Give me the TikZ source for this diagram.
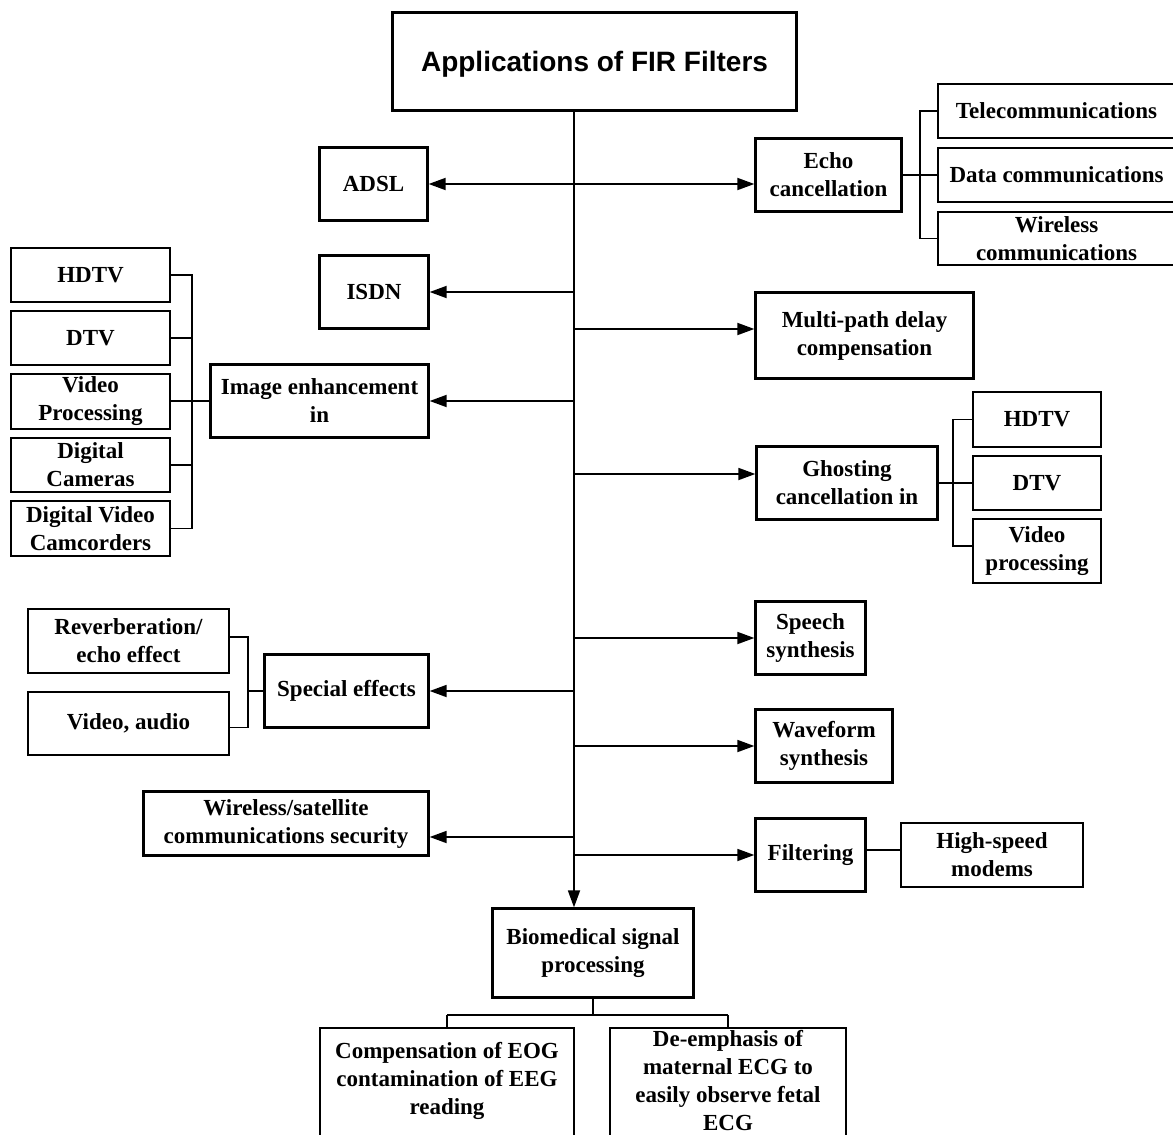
\documentclass[tikz,border=0pt]{standalone}
\usepackage{fontspec}
\setmainfont{Liberation Serif}
\setsansfont{Liberation Sans}
\usetikzlibrary{arrows.meta}
\begin{document}
\begin{tikzpicture}[x=1pt,y=-1pt,
  mbox/.style={draw, line width=2.3pt, inner sep=0pt, align=center, font=\bfseries\fontsize{23}{28}\selectfont},
  cbox/.style={draw, line width=1.5pt, inner sep=0pt, align=center, font=\bfseries\fontsize{23}{28}\selectfont},
  txt/.style={inner sep=0pt, align=center, font=\bfseries\fontsize{23}{28}\selectfont},
  conn/.style={line width=1.6pt},
  arr/.style={line width=1.8pt, -{Triangle[length=17pt,width=12pt]}},
  darr/.style={line width=1.8pt, {Triangle[length=17pt,width=12pt]}-{Triangle[length=17pt,width=12pt]}},
]
\useasboundingbox[fill=white] (0,0) rectangle (1173,1135);

% title
\node[draw, line width=2.4pt, inner sep=0pt, minimum width=404pt, minimum height=98pt, text depth=0pt,
      font=\sffamily\bfseries\fontsize{28}{32}\selectfont] (title) at (594.5,61.5) {Applications of FIR Filters};

% left main boxes
\node[mbox, minimum width=108pt, minimum height=73pt] (adsl) at (373.5,184) {ADSL};
\node[mbox, minimum width=109pt, minimum height=73pt] (isdn) at (374,292) {ISDN};
\node[mbox, minimum width=218pt, minimum height=73pt] (imgenh) at (319.5,401) {Image enhancement\\in};
\node[mbox, minimum width=164pt, minimum height=73pt] (special) at (346.5,691) {Special effects};
\node[mbox, minimum width=285pt, minimum height=64pt] (wsat) at (286,823.5) {Wireless/satellite\\communications security};

% right main boxes
\node[mbox, minimum width=146pt, minimum height=73pt] (echo) at (828.5,175) {Echo\\cancellation};
\node[mbox, minimum width=218pt, minimum height=86pt] (multi) at (864.5,335.5) {Multi-path delay\\compensation};
\node[mbox, minimum width=181pt, minimum height=73pt] (ghost) at (847,483) {Ghosting\\cancellation in};
\node[mbox, minimum width=110pt, minimum height=73pt] (speech) at (810.5,638) {Speech\\synthesis};
\node[mbox, minimum width=137pt, minimum height=73pt] (wave) at (824,746) {Waveform\\synthesis};
\node[mbox, minimum width=110pt, minimum height=73pt] (filter) at (810.5,855) {Filtering};
\node[mbox, minimum width=201pt, minimum height=89pt] (bio) at (593,953) {Biomedical signal\\processing};

% echo children
\node[cbox, minimum width=237pt, minimum height=54pt] (tele) at (1056.5,111) {Telecommunications};
\node[cbox, minimum width=237pt, minimum height=54pt] (data) at (1056.5,175) {Data communications};
\node[cbox, minimum width=237pt, minimum height=53pt] (wless) at (1056.5,238.5) {Wireless\\communications};

% image enhancement children
\node[cbox, minimum width=159pt, minimum height=54pt] (hdtvL) at (90.5,275) {HDTV};
\node[cbox, minimum width=159pt, minimum height=54pt] (dtvL) at (90.5,338) {DTV};
\node[cbox, minimum width=159pt, minimum height=55pt] (vpL) at (90.5,401.5) {Video\\Processing};
\node[cbox, minimum width=159pt, minimum height=54pt] (dcL) at (90.5,465) {Digital\\Cameras};
\node[cbox, minimum width=159pt, minimum height=55pt] (dvcL) at (90.5,528.5) {Digital Video\\Camcorders};

% ghosting children
\node[cbox, minimum width=128pt, minimum height=55pt] (hdtvR) at (1037,419.5) {HDTV};
\node[cbox, minimum width=128pt, minimum height=54pt] (dtvR) at (1037,483) {DTV};
\node[cbox, minimum width=128pt, minimum height=64pt] (vpR) at (1037,551) {Video\\processing};

% special effects children
\node[cbox, minimum width=201pt, minimum height=64pt] (reverb) at (128.5,641) {Reverberation/\\echo effect};
\node[cbox, minimum width=201pt, minimum height=63pt] (vaud) at (128.5,723.5) {Video, audio};

% filtering child
\node[cbox, minimum width=182pt, minimum height=64pt] (modems) at (992,855) {High-speed\\modems};

% biomedical children
\node[cbox, minimum width=254pt, minimum height=132pt] (comp) at (447,1094) {};
\node[cbox, minimum width=236pt, minimum height=132pt] (deemph) at (728,1094) {};
\node[txt] (compt) at (447,1081) {Compensation of EOG\\contamination of EEG\\reading};
\node[txt] (deempht) at (728,1081) {De-emphasis of\\maternal ECG to\\easily observe fetal\\ECG};

% attachment points offset from node centres
\coordinate (wsatin) at ([yshift=-13.5pt]wsat.east);
\coordinate (multiin) at ([yshift=6.5pt]multi.west);
\coordinate (ghostin) at ([yshift=9pt]ghost.west);
\coordinate (vpRin) at ([yshift=5pt]vpR.west);
\coordinate (reverbin) at ([yshift=4pt]reverb.east);
\coordinate (vaudin) at ([yshift=-4pt]vaud.east);
\coordinate (filterout) at ([yshift=5pt]filter.east);

% spine
\coordinate (sp) at (574,111);
\draw[line width=1.8pt, -{Triangle[length=17pt,width=12pt]}] (sp) -- (sp |- bio.north);

% left branches
\draw[darr] (adsl.east) -- (adsl.east -| echo.west);
\draw[arr] (sp |- isdn.east) -- (isdn.east);
\draw[arr] (sp |- imgenh.east) -- (imgenh.east);
\draw[arr] (sp |- special.east) -- (special.east);
\draw[arr] (sp |- wsatin) -- (wsatin);

% right branches
\draw[arr] (sp |- multiin) -- (multiin);
\draw[arr] (sp |- ghostin) -- (ghostin);
\draw[arr] (sp |- speech.west) -- (speech.west);
\draw[arr] (sp |- wave.west) -- (wave.west);
\draw[arr] (sp |- filter.west) -- (filter.west);

% echo bracket
\coordinate (eb) at (920,0);
\draw[conn] (tele.west) -- (eb |- tele.west) -- (eb |- wless.west) -- (wless.west);
\draw[conn] (echo.east) -- (data.west);

% image enhancement bracket
\coordinate (lb) at (192,0);
\draw[conn] (hdtvL.east) -- (lb |- hdtvL.east) -- (lb |- dvcL.east) -- (dvcL.east);
\draw[conn] (dtvL.east) -- (lb |- dtvL.east);
\draw[conn] (dcL.east) -- (lb |- dcL.east);
\draw[conn] (imgenh.west) -- (imgenh.west -| vpL.east);

% ghosting bracket
\coordinate (gb) at (953,0);
\draw[conn] (hdtvR.west) -- (gb |- hdtvR.west) -- (gb |- vpRin) -- (vpRin);
\draw[conn] (ghost.east) -- (dtvR.west);

% special effects bracket
\coordinate (sb) at (248,0);
\draw[conn] (reverbin) -- (sb |- reverbin) -- (sb |- vaudin) -- (vaudin);
\draw[conn] (special.west) -- (sb |- special.west);

% filtering to modems
\draw[conn] (filterout) -- (filterout -| modems.west);

% biomedical tree
\coordinate (bj) at (593,1015);
\draw[conn] (bio.south) -- (bj);
\draw[conn] (bj -| comp.north) -- (bj -| deemph.north);
\draw[conn] (bj -| comp.north) -- (comp.north);
\draw[conn] (bj -| deemph.north) -- (deemph.north);
\end{tikzpicture}
\end{document}
